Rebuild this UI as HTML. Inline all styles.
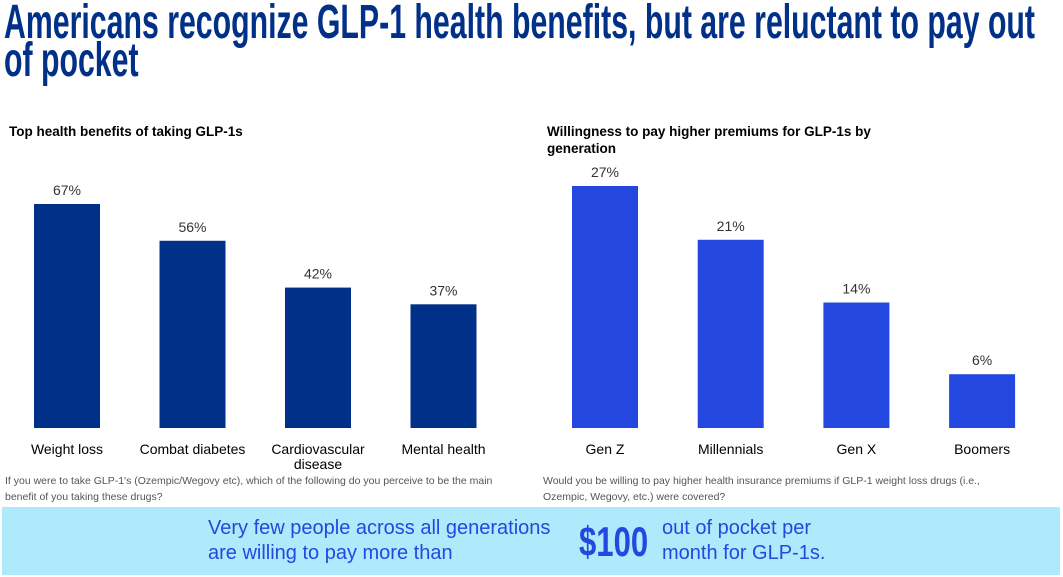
<!DOCTYPE html>
<html><head><meta charset="utf-8">
<style>
body{margin:0;width:1063px;height:577px;background:#fff;position:relative;overflow:hidden;font-family:"Liberation Sans",sans-serif}
.title{position:absolute;left:4px;top:4px;font-family:"Liberation Sans Narrow","Liberation Sans",sans-serif;font-weight:bold;color:#003087;font-size:48px;line-height:38px;white-space:nowrap;transform-origin:0 0}
.sub{position:absolute;font-size:13.5px;font-weight:bold;color:#000;line-height:17px}
.note{position:absolute;font-size:10.5px;color:#555;line-height:16px;font-family:"Liberation Sans Narrow","Liberation Sans",sans-serif}
svg{position:absolute;left:0;top:0}
.banner{position:absolute;left:2px;top:507px;width:1058px;height:68px;background:#aeeafb}
.bt{position:absolute;color:#2447e0;font-size:20px;line-height:25px}
</style></head><body>
<div class="title" id="title"><div>Americans recognize GLP-1 health benefits, but are reluctant to pay out</div><div>of pocket</div></div>
<div class="sub" style="left:9px;top:123px">Top health benefits of taking GLP-1s</div>
<div class="sub" style="left:547px;top:123px;width:370px">Willingness to pay higher premiums for GLP-1s by generation</div>
<svg id="chart" width="1063" height="577"></svg>
<div class="note" style="left:5px;top:473px;width:500px">If you were to take GLP-1's (Ozempic/Wegovy etc), which of the following do you perceive to be the main benefit of you taking these drugs?</div>
<div class="note" style="left:543px;top:473px;width:475px">Would you be willing to pay higher health insurance premiums if GLP-1 weight loss drugs (i.e., Ozempic, Wegovy, etc.) were covered?</div>
<div class="banner"></div>
<div class="bt" style="left:208px;top:516px">Very few people across all generations<br>are willing to pay more than</div>
<div class="bt" style="left:579px;top:518px;font-family:'Liberation Sans Narrow','Liberation Sans',sans-serif;font-weight:bold;font-size:42px;line-height:48px;transform:scaleX(0.74);transform-origin:0 0">$100</div>
<div class="bt" style="left:662px;top:516px">out of pocket per<br>month for GLP-1s.</div>
<script>
const benefitCats=["Weight loss","Combat diabetes","Cardiovascular\ndisease","Mental health"];
const benefitVals=[67,56,42,37];
const genCats=["Gen Z","Millennials","Gen X","Boomers"];
const genVals=[27,21,14,6];
const NS="http://www.w3.org/2000/svg";
const svg=document.getElementById('chart');
function draw(cats,vals,x0,step,scale,color,prefix){
  const base=428,w=66;
  cats.forEach((c,i)=>{
    const x=x0+i*step,h=vals[i]*scale;
    const r=document.createElementNS(NS,'rect');
    r.setAttribute('x',x);r.setAttribute('y',base-h);r.setAttribute('width',w);r.setAttribute('height',h);r.setAttribute('fill',color);
    
    
    svg.appendChild(r);
    const t=document.createElementNS(NS,'text');
    t.setAttribute('x',x+w/2);t.setAttribute('y',base-h-9);t.setAttribute('text-anchor','middle');
    t.setAttribute('font-size','14');t.setAttribute('fill','#333');t.setAttribute('font-family','Liberation Sans, sans-serif');
    t.textContent=vals[i]+'%';
    
    
    svg.appendChild(t);
    c.split('\n').forEach((ln,j)=>{
      const l=document.createElementNS(NS,'text');
      l.setAttribute('x',x+w/2);l.setAttribute('y',454+j*15);l.setAttribute('text-anchor','middle');
      l.setAttribute('font-size','14');l.setAttribute('fill','#000');l.setAttribute('font-family','Liberation Sans, sans-serif');
      l.textContent=ln;
      
      
      svg.appendChild(l);
    });
  });
}
draw(benefitCats,benefitVals,34,125.5,224/67,'#003087','benefit');
draw(genCats,genVals,572,125.7,242/27,'#2447e0','generation');
const tt=document.getElementById('title');
const wdt=tt.firstElementChild.getBoundingClientRect().width;
tt.style.transform='scaleX('+(1031/wdt)+')';
</script>
</body></html>
